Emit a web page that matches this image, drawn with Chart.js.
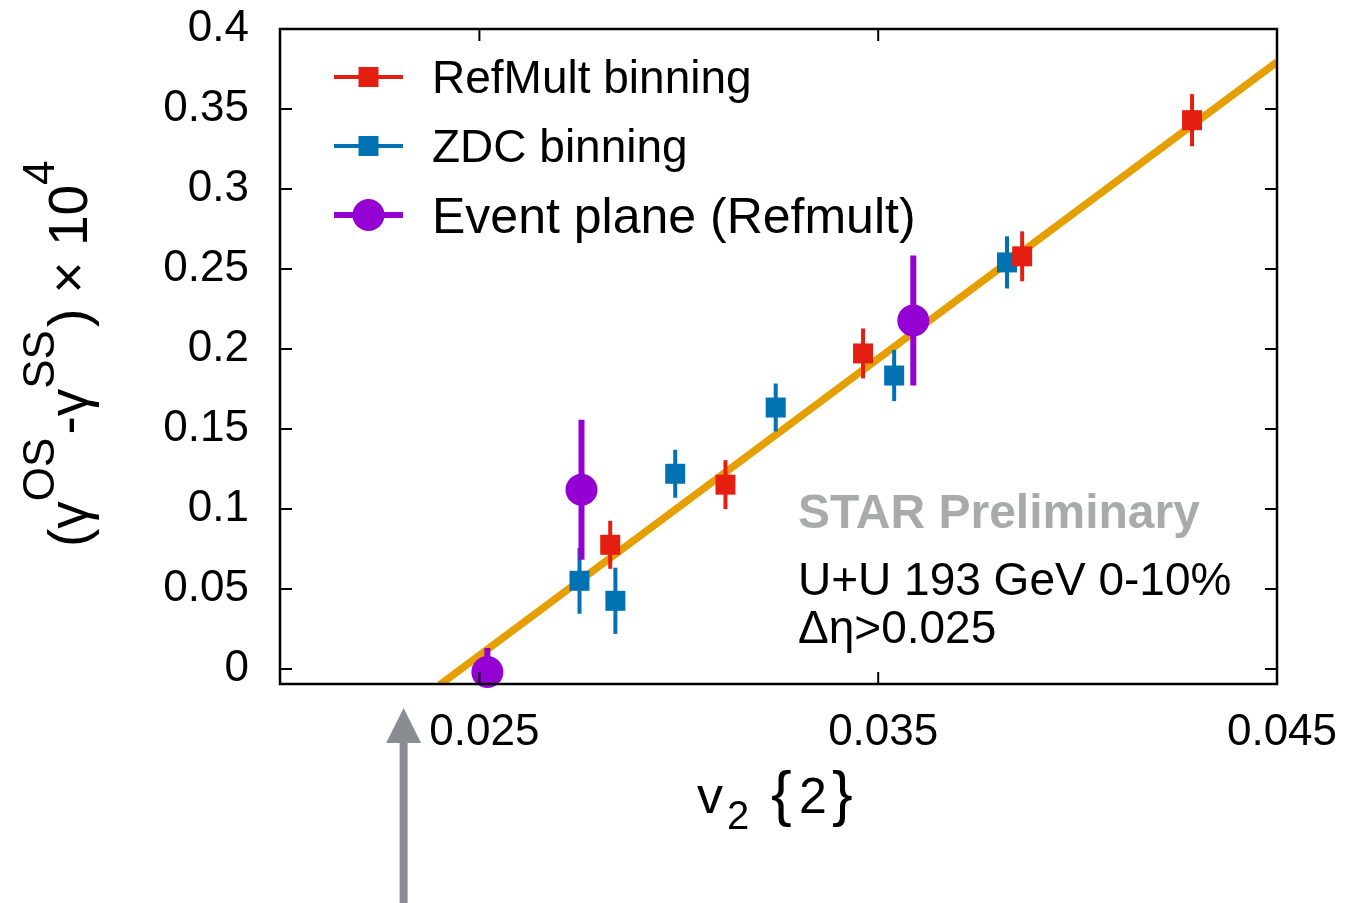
<!DOCTYPE html>
<html>
<head>
<meta charset="utf-8">
<title>gamma correlator vs v2{2}</title>
<script src="https://cdn.jsdelivr.net/npm/chart.js@4.4.0/dist/chart.umd.min.js"></script>
<style>
  html, body { margin: 0; padding: 0; background: #fff; }
  #wrap { width: 1347px; height: 903px; position: relative; }
</style>
</head>
<body>
<div id="wrap"><canvas id="chart"></canvas></div>
<script>
// U+U 193 GeV 0-10%: (gamma_OS - gamma_SS) x 10^4 vs v2{2}

// RefMult binning
const refX = [0.02828, 0.03117, 0.03462, 0.03861, 0.04287];
const refY = [0.0776, 0.1152, 0.1972, 0.2579, 0.3430];
const refErr = [0.0150, 0.0153, 0.0156, 0.0156, 0.0163];

// ZDC binning
const zdcX = [0.02751, 0.02841, 0.02991, 0.03243, 0.03540, 0.03823];
const zdcY = [0.0551, 0.0426, 0.1220, 0.1634, 0.1834, 0.2541];
const zdcErr = [0.0206, 0.0207, 0.0150, 0.0150, 0.0160, 0.0163];

// Event plane (Refmult)
const epX = [0.02520, 0.02756, 0.03588];
const epY = [-0.0019, 0.1120, 0.2178];
const epErr = [0.0150, 0.0437, 0.0407];

// linear fit, end points
const fitX = [0.02400, 0.04500];
const fitY = [-0.0100, 0.3793];

// axes
const xTicks = [0.025, 0.035, 0.045];
const yTicks = [0, 0.05, 0.1, 0.15, 0.2, 0.25, 0.3, 0.35, 0.4];
const xMin = 0.02, xMax = 0.045;
const yMin = -0.0094, yMax = 0.4;

// arrow under the x axis (v2 position)
const arrowX = 0.0231;

const FONT = '"Liberation Sans", Arial, Helvetica, sans-serif';
const RED = '#e41e10';
const BLUE = '#0072b2';
const PURPLE = '#9400d3';
const ORANGE = '#e69f00';

function toPoints(xs, ys) {
    return xs.map((x, i) => ({ x: x, y: ys[i] }));
}

function noPad(s) {
    s.paddingTop = 0;
    s.paddingBottom = 0;
    s.paddingLeft = 0;
    s.paddingRight = 0;
}

const decorPlugin = {
    id: 'decor',
    // error bars go under each dataset's own markers, clipped to the frame
    beforeDatasetDraw(chart, args) {
        const ds = chart.data.datasets[args.index];
        if (!ds.yErr) return;
        const ctx = chart.ctx;
        const a = chart.chartArea;
        const xs = chart.scales.x, ys = chart.scales.y;
        ctx.save();
        ctx.beginPath();
        ctx.rect(a.left, a.top, a.right - a.left, a.bottom - a.top);
        ctx.clip();
        ctx.strokeStyle = ds.backgroundColor;
        ctx.lineWidth = ds.errWidth;
        ds.data.forEach((p, i) => {
            const px = xs.getPixelForValue(p.x);
            ctx.beginPath();
            ctx.moveTo(px, ys.getPixelForValue(p.y - ds.yErr[i]));
            ctx.lineTo(px, ys.getPixelForValue(p.y + ds.yErr[i]));
            ctx.stroke();
        });
        ctx.restore();
    },
    afterDraw(chart) {
        const ctx = chart.ctx;
        const a = chart.chartArea;
        const xs = chart.scales.x, ys = chart.scales.y;
        ctx.save();

        // frame + inward ticks on all sides
        ctx.strokeStyle = '#000';
        ctx.lineWidth = 2.5;
        ctx.strokeRect(a.left, a.top, a.right - a.left, a.bottom - a.top);
        ctx.lineWidth = 2;
        const tl = 12;
        ctx.beginPath();
        yTicks.forEach(v => {
            const py = ys.getPixelForValue(v);
            ctx.moveTo(a.left, py); ctx.lineTo(a.left + tl, py);
            ctx.moveTo(a.right, py); ctx.lineTo(a.right - tl, py);
        });
        xTicks.forEach(v => {
            const px = xs.getPixelForValue(v);
            ctx.moveTo(px, a.bottom); ctx.lineTo(px, a.bottom - tl);
            ctx.moveTo(px, a.top); ctx.lineTo(px, a.top + tl);
        });
        ctx.stroke();

        // legend
        const legendRows = [
            { ds: chart.data.datasets[0], y: 77, font: '46px ' + FONT, base: 93 },
            { ds: chart.data.datasets[1], y: 146, font: '46px ' + FONT, base: 162 },
            { ds: chart.data.datasets[2], y: 215, font: '50px ' + FONT, base: 233 }
        ];
        legendRows.forEach(r => {
            const c = r.ds.backgroundColor;
            ctx.strokeStyle = c;
            ctx.fillStyle = c;
            ctx.lineWidth = r.ds.errWidth;
            ctx.beginPath();
            ctx.moveTo(334, r.y); ctx.lineTo(403, r.y);
            ctx.stroke();
            ctx.beginPath();
            if (r.ds.pointStyle === 'circle') {
                ctx.arc(368.5, r.y, r.ds.pointRadius, 0, Math.PI * 2);
            } else {
                ctx.rect(358.5, r.y - 10, 20, 20);
            }
            ctx.fill();
            ctx.fillStyle = '#000';
            ctx.font = r.font;
            ctx.textAlign = 'left';
            ctx.textBaseline = 'alphabetic';
            ctx.fillText(r.ds.label, 432, r.base);
        });

        // annotations
        ctx.textAlign = 'left';
        ctx.textBaseline = 'alphabetic';
        ctx.fillStyle = '#a9abaa';
        ctx.font = 'bold 48px ' + FONT;
        ctx.fillText('STAR Preliminary', 798, 528);
        ctx.fillStyle = '#000';
        ctx.font = '46px ' + FONT;
        ctx.fillText('U+U 193 GeV 0-10%', 798, 595);
        ctx.fillText('\u0394\u03b7>0.025', 798, 643);

        // x axis title: v_2 {2}
        ctx.font = '52px ' + FONT;
        ctx.fillText('v', 697, 813);
        ctx.font = '40px ' + FONT;
        ctx.fillText('2', 727, 829);
        ctx.font = '62px ' + FONT;
        ctx.fillText('{', 771, 814);
        ctx.font = '50px ' + FONT;
        ctx.fillText('2', 799, 813);
        ctx.font = '62px ' + FONT;
        ctx.fillText('}', 832, 814);

        // y axis title: (gamma^OS - gamma^SS) x 10^4, rotated
        ctx.save();
        ctx.translate(87, 547);
        ctx.rotate(-Math.PI / 2);
        const parts = [
            ['(\u03b3', false], ['OS', true], ['-\u03b3', false], ['SS', true],
            [') \u00d7 10', false], ['4', true]
        ];
        let t = 0;
        parts.forEach(p => {
            ctx.font = (p[1] ? '44px ' : '55px ') + FONT;
            ctx.fillText(p[0], t, p[1] ? -33 : 0);
            t += ctx.measureText(p[0]).width + (p[1] ? 3 : 0);
        });
        ctx.restore();

        // grey arrow below the axis
        const ax = xs.getPixelForValue(arrowX);
        ctx.fillStyle = '#898c90';
        ctx.fillRect(ax - 4, 740, 8, 903 - 740);
        ctx.beginPath();
        ctx.moveTo(ax, 708);
        ctx.lineTo(ax + 17.5, 743);
        ctx.lineTo(ax - 17.5, 743);
        ctx.closePath();
        ctx.fill();

        ctx.restore();
    }
};

new Chart(document.getElementById('chart'), {
    type: 'scatter',
    data: {
        datasets: [
            {
                label: 'RefMult binning',
                data: toPoints(refX, refY),
                yErr: refErr,
                errWidth: 4,
                backgroundColor: RED,
                borderColor: RED,
                pointStyle: 'rect',
                pointRadius: 14.14,
                pointBorderWidth: 0,
                order: 1
            },
            {
                label: 'ZDC binning',
                data: toPoints(zdcX, zdcY),
                yErr: zdcErr,
                errWidth: 4,
                backgroundColor: BLUE,
                borderColor: BLUE,
                pointStyle: 'rect',
                pointRadius: 14.14,
                pointBorderWidth: 0,
                order: 2
            },
            {
                label: 'Event plane (Refmult)',
                data: toPoints(epX, epY),
                yErr: epErr,
                errWidth: 6,
                backgroundColor: PURPLE,
                borderColor: PURPLE,
                pointStyle: 'circle',
                pointRadius: 16,
                pointBorderWidth: 0,
                clip: false,
                order: 0
            },
            {
                label: 'fit',
                data: toPoints(fitX, fitY),
                showLine: true,
                borderColor: ORANGE,
                borderWidth: 7.5,
                pointRadius: 0,
                order: 3
            }
        ]
    },
    options: {
        responsive: true,
        maintainAspectRatio: false,
        animation: false,
        layout: { padding: { top: 29, right: 70, left: 0, bottom: 0 } },
        plugins: {
            legend: { display: false },
            tooltip: { enabled: false }
        },
        scales: {
            x: {
                type: 'linear',
                min: xMin,
                max: xMax,
                afterBuildTicks: s => { s.ticks = xTicks.map(v => ({ value: v })); },
                afterFit: s => { s.height = 219; noPad(s); },
                grid: { display: false, drawTicks: false },
                border: { display: false },
                ticks: {
                    color: '#000',
                    font: { family: FONT, size: 44 },
                    padding: 22,
                    labelOffset: 5,
                    maxRotation: 0,
                    autoSkip: false,
                    callback: v => v.toFixed(3)
                }
            },
            y: {
                type: 'linear',
                min: yMin,
                max: yMax,
                afterBuildTicks: s => { s.ticks = yTicks.map(v => ({ value: v })); },
                afterFit: s => { s.width = 280; noPad(s); },
                grid: { display: false, drawTicks: false },
                border: { display: false },
                ticks: {
                    color: '#000',
                    font: { family: FONT, size: 44 },
                    padding: 31,
                    autoSkip: false,
                    callback: v => String(parseFloat(v.toFixed(2)))
                }
            }
        }
    },
    plugins: [decorPlugin]
});
</script>
</body>
</html>
